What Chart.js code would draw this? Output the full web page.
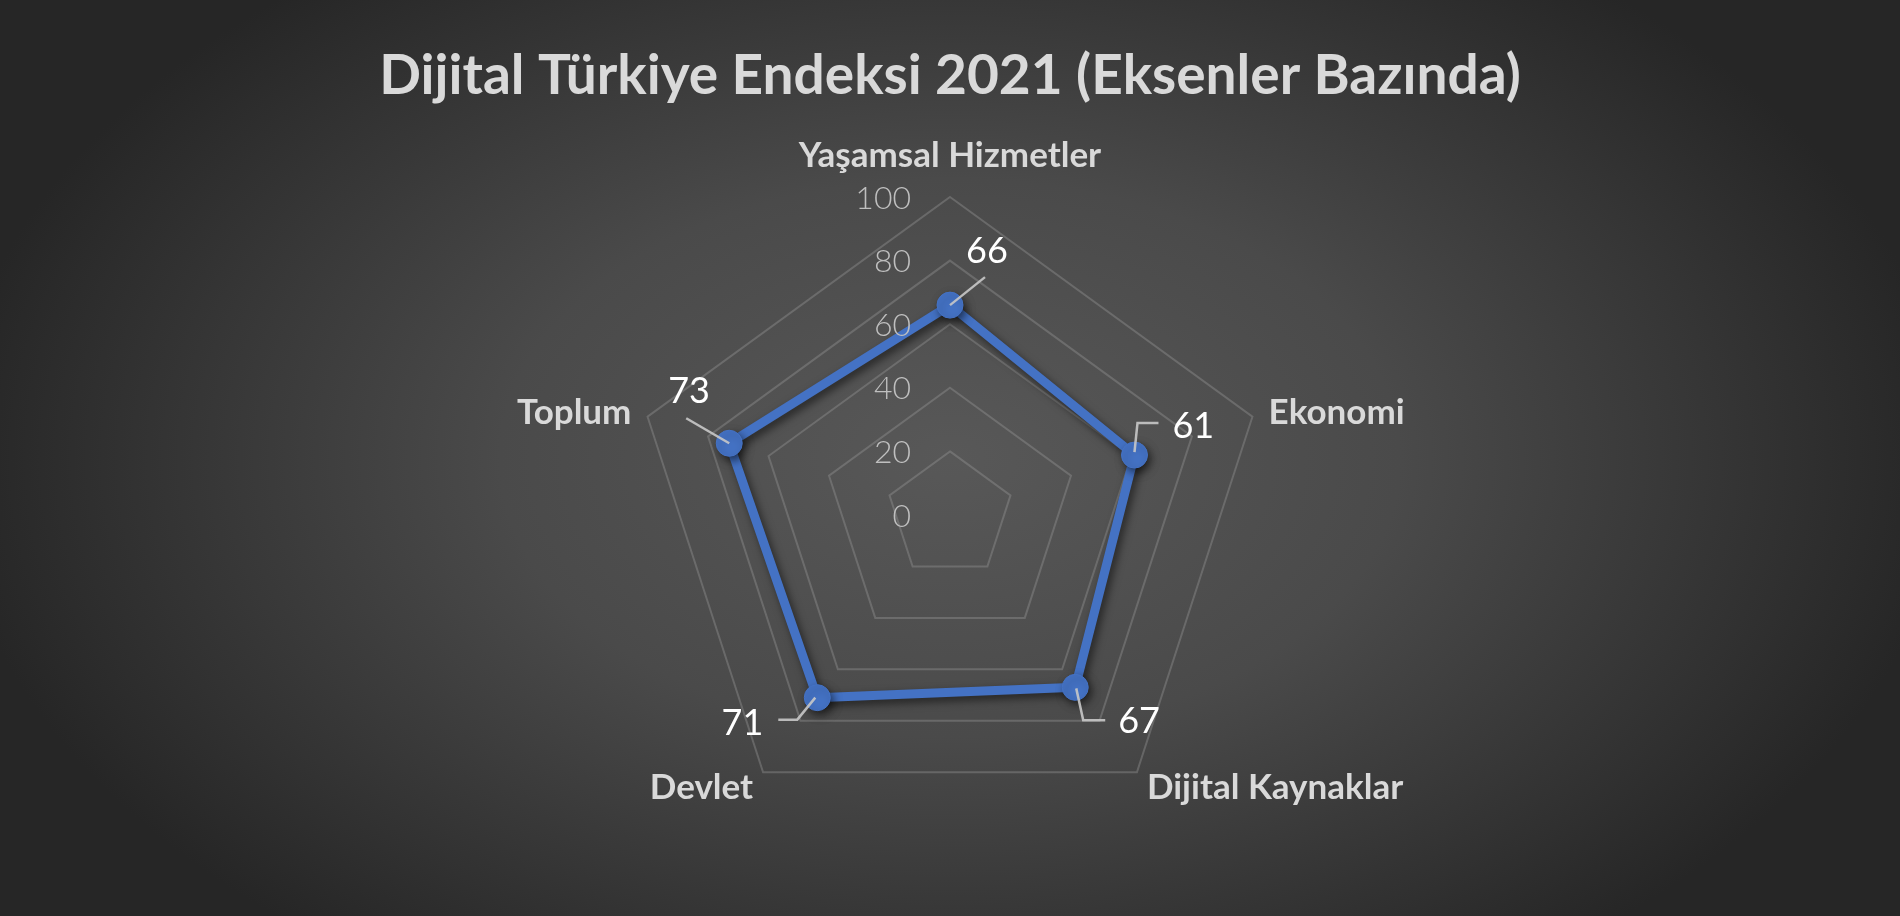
<!DOCTYPE html>
<html lang="tr">
  <head>
    <title>Dijital Türkiye Endeksi 2021</title>
    <meta charset="utf-8" />
    <script src="https://cdn.jsdelivr.net/npm/chart.js@4.4.9/dist/chart.umd.min.js"></script>
  </head>

  <body style="padding: 0; margin: 0; width: 1900px; height: 916px; overflow: hidden">
    <div style="width: 1900px; height: 916px">
      <canvas id="myChart"></canvas>
    </div>

    <script>
      const categories = ["Yaşamsal Hizmetler", "Ekonomi", "Dijital Kaynaklar", "Devlet", "Toplum"];
      const scores = [66, 61, 67, 71, 73];
      const scaleMin = 0;
      const scaleMax = 100;
      const scaleStep = 20;

      // where the value labels sit relative to their point, with leader lines
      const labelPlacement = [
        { dx: 16, dy: -55, align: "left", leader: [[0, 0], [35, -28]] },
        { dx: 38, dy: -30, align: "left", leader: [[0, -3], [3, -32], [24, -32]] },
        { dx: 43, dy: 33, align: "left", leader: [[1, 1], [8, 33], [30, 33]] },
        { dx: -54, dy: 24, align: "right", leader: [[-2, 0], [-20, 22], [-39, 22]] },
        { dx: -61, dy: -53, align: "left", leader: [[0, 0], [-43, -25]] },
      ];

      const backgroundPlugin = {
        id: "bg",
        beforeDraw(chart) {
          const { ctx, width, height } = chart;
          ctx.save();
          ctx.translate(width / 2, height / 2);
          ctx.scale(1, 0.62);
          const g = ctx.createRadialGradient(0, 0, 0, 0, 0, 1000);
          g.addColorStop(0, "#585858");
          g.addColorStop(0.45, "#4a4a4a");
          g.addColorStop(1, "#262626");
          ctx.fillStyle = g;
          ctx.fillRect(-width, -height * 2, width * 2, height * 4);
          ctx.restore();
        },
      };

      const shadowPlugin = {
        id: "line_shadow",
        beforeDatasetsDraw(chart) {
          const ctx = chart.ctx;
          ctx.save();
          ctx.shadowColor = "rgba(0,0,0,0.55)";
          ctx.shadowBlur = 8;
          ctx.shadowOffsetX = 3;
          ctx.shadowOffsetY = 4;
        },
        afterDatasetsDraw(chart) {
          chart.ctx.restore();
        },
      };

      const axisTextPlugin = {
        id: "axis_text",
        afterDatasetsDraw(chart) {
          const ctx = chart.ctx;
          const scale = chart.scales.r;
          ctx.save();

          // tick values left of the first spoke
          ctx.font = "300 32px Lato";
          ctx.fillStyle = "#bfbfbf";
          ctx.textAlign = "right";
          ctx.textBaseline = "alphabetic";
          for (const tick of scale.ticks) {
            const y = scale.yCenter - scale.getDistanceFromCenterForValue(tick.value);
            ctx.fillText(String(tick.value), scale.xCenter - 39, y + 32 * 0.36);
          }

          // category names outside the outer ring
          const size = 35;
          ctx.font = `bold ${size}px Lato`;
          ctx.fillStyle = "#d9d9d9";
          chart.data.labels.forEach((label, i) => {
            const pos = scale.getPointPosition(i, scale.drawingArea + 17);
            const deg = Math.round((scale.getIndexAngle(i) * 180) / Math.PI) % 360;
            let y = pos.y + size * 0.36;
            if (deg === 0) {
              ctx.textAlign = "center";
              y -= 26;
            } else if (deg < 180) {
              ctx.textAlign = "left";
            } else {
              ctx.textAlign = "right";
            }
            ctx.fillText(label, pos.x, y);
          });
          ctx.restore();
        },
      };

      const valueLabelPlugin = {
        id: "value_labels",
        afterDatasetsDraw(chart, _args, options) {
          const ctx = chart.ctx;
          const meta = chart.getDatasetMeta(0);
          const data = chart.data.datasets[0].data;
          ctx.save();
          meta.data.forEach((pt, i) => {
            const p = options.placement[i];
            ctx.strokeStyle = "rgba(200,200,200,0.9)";
            ctx.lineWidth = 2.5;
            ctx.beginPath();
            p.leader.forEach(([lx, ly], k) => {
              if (k === 0) ctx.moveTo(pt.x + lx, pt.y + ly);
              else ctx.lineTo(pt.x + lx, pt.y + ly);
            });
            ctx.stroke();

            ctx.font = "36px Lato";
            ctx.fillStyle = "#ffffff";
            ctx.textAlign = p.align;
            ctx.textBaseline = "alphabetic";
            ctx.fillText(String(data[i]), pt.x + p.dx, pt.y + p.dy + 36 * 0.36);
          });
          ctx.restore();
        },
      };

      Chart.defaults.font.family = "Lato, 'Open Sans', sans-serif";

      new Chart(document.getElementById("myChart"), {
        type: "radar",
        data: {
          labels: categories,
          datasets: [
            {
              label: "2021",
              data: scores,
              borderColor: "#4472C4",
              backgroundColor: "#4472C4",
              borderWidth: 9,
              fill: false,
              pointRadius: 13,
              pointBackgroundColor: "#4472C4",
              pointBorderColor: "#4472C4",
              pointBorderWidth: 1,
              borderJoinStyle: "round",
            },
          ],
        },
        plugins: [backgroundPlugin, shadowPlugin, axisTextPlugin, valueLabelPlugin],
        options: {
          responsive: true,
          maintainAspectRatio: false,
          animation: false,
          layout: { padding: { bottom: 82 } },
          scales: {
            r: {
              min: scaleMin,
              max: scaleMax,
              ticks: { stepSize: scaleStep, display: false },
              grid: { color: "rgba(150,150,150,0.4)", lineWidth: 2, circular: false },
              angleLines: { display: false },
              pointLabels: { display: false },
            },
          },
          plugins: {
            legend: { display: false },
            tooltip: { enabled: false },
            title: {
              display: true,
              text: "Dijital Türkiye Endeksi 2021 (Eksenler Bazında)",
              color: "#d9d9d9",
              font: { size: 55, weight: "bold" },
              padding: { top: 43, bottom: 88 },
            },
            value_labels: { placement: labelPlacement },
          },
        },
      });
    </script>
  </body>
</html>
